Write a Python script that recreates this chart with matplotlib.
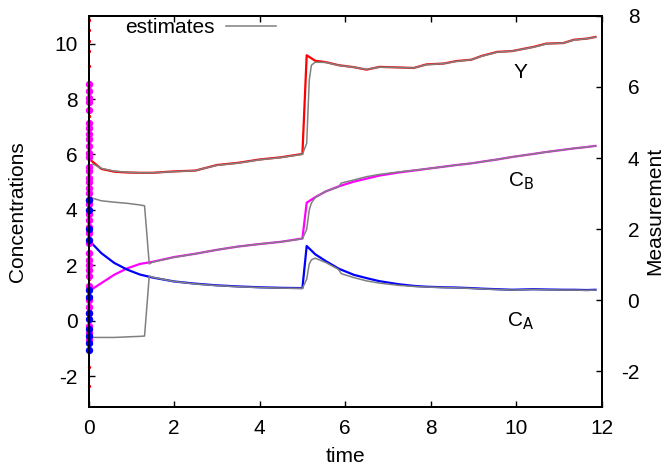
import matplotlib
matplotlib.use("Agg")
import matplotlib.pyplot as plt
from matplotlib.lines import Line2D

plt.rcParams['font.family'] = ['Liberation Sans', 'DejaVu Sans']
plt.rcParams['font.size'] = 15
plt.rcParams['axes.unicode_minus'] = False

# ---- data ----
t_true = [0.0, 0.3, 0.6, 0.9, 1.2, 1.5, 2.0, 2.5, 3.0, 3.5, 4.0, 4.5, 5.0,
          5.1, 5.3, 5.55, 5.85, 6.2, 6.5, 6.8, 7.25, 7.6, 7.9, 8.3, 8.6,
          8.95, 9.2, 9.55, 9.9, 10.4, 10.7, 11.1, 11.35, 11.65, 11.85]
y_true = [5.86, 5.48, 5.38, 5.35, 5.34, 5.34, 5.39, 5.42, 5.62, 5.70, 5.82, 5.90, 6.02,
          9.58, 9.38, 9.33, 9.22, 9.15, 9.06, 9.16, 9.14, 9.12, 9.25, 9.28, 9.37,
          9.42, 9.56, 9.70, 9.73, 9.88, 10.00, 10.02, 10.14, 10.18, 10.24]
cb_true = [1.06, 1.36, 1.66, 1.89, 2.05, 2.13, 2.30, 2.42, 2.56, 2.68, 2.77, 2.85, 2.97,
           4.26, 4.46, 4.67, 4.85, 5.02, 5.13, 5.24, 5.35, 5.42, 5.48, 5.56, 5.62,
           5.68, 5.74, 5.82, 5.91, 6.02, 6.09, 6.17, 6.22, 6.27, 6.31]
ca_true = [2.92, 2.44, 2.09, 1.85, 1.67, 1.56, 1.42, 1.34, 1.28, 1.24, 1.21, 1.19, 1.18,
           2.70, 2.40, 2.15, 1.88, 1.66, 1.54, 1.43, 1.32, 1.26, 1.23, 1.21, 1.20,
           1.18, 1.16, 1.14, 1.12, 1.14, 1.13, 1.12, 1.12, 1.11, 1.12]

t_est = [0.05, 0.1, 0.3, 0.6, 0.9, 1.2, 1.31, 1.42, 1.5, 2.0, 2.5, 3.0, 3.5, 4.0, 4.5, 5.0,
         5.1, 5.16, 5.21, 5.3, 5.55, 5.84, 5.91, 6.2, 6.5, 6.8, 7.25, 7.6, 7.9, 8.3, 8.6,
         8.95, 9.2, 9.55, 9.9, 10.4, 10.7, 11.1, 11.35, 11.65, 11.85]
y_est = [5.60, 5.66, 5.50, 5.40, 5.36, 5.34, 5.34, 5.34, 5.34, 5.38, 5.42, 5.61, 5.69, 5.81, 5.89, 6.01,
         6.40, 8.68, 9.22, 9.33, 9.32, 9.22, 9.20, 9.15, 9.07, 9.15, 9.14, 9.12, 9.24, 9.28, 9.36,
         9.42, 9.55, 9.69, 9.73, 9.87, 9.99, 10.02, 10.13, 10.18, 10.23]
cb_est = [4.50, 4.42, 4.33, 4.28, 4.24, 4.18, 4.15, 2.05, 2.12, 2.29, 2.42, 2.56, 2.68, 2.77, 2.85, 2.96,
          3.30, 4.00, 4.25, 4.45, 4.68, 4.82, 4.97, 5.08, 5.20, 5.28, 5.37, 5.43, 5.48, 5.56, 5.62,
          5.68, 5.74, 5.82, 5.91, 6.02, 6.09, 6.17, 6.22, 6.27, 6.31]
ca_est = [-0.45, -0.60, -0.60, -0.60, -0.58, -0.56, -0.55, 1.62, 1.57, 1.42, 1.33, 1.27, 1.23, 1.20, 1.18, 1.17,
          1.50, 2.05, 2.20, 2.26, 2.10, 1.86, 1.70, 1.56, 1.44, 1.36, 1.28, 1.24, 1.22, 1.20, 1.19,
          1.17, 1.15, 1.13, 1.11, 1.13, 1.12, 1.11, 1.11, 1.10, 1.11]

# initial ensemble samples at t = 0
y0_samples = [10.85, 10.5, 10.1, 9.75, 9.2, 8.35, 7.9, 7.4, 6.6, 6.1, 5.2, 4.6, 3.9,
              3.2, 2.5, 1.5, 0.2, -1.65, -2.35]
cb0_samples = [8.55, 8.3, 8.05, 7.9, 7.6, 7.15, 6.95, 6.75, 6.55, 6.3, 6.05, 5.9, 5.55,
               5.4, 5.15, 5.0, 4.8, 4.6, 4.35, 4.2, 3.85, 3.65, 3.4, 3.15, 2.8, 2.45,
               2.2, 2.0, 1.85, 1.6, 1.25, 0.75, 0.5, 0.3, -0.2, -0.45, -0.7]
ca0_samples = [4.35, 4.0, 3.3, 2.9, 1.1, 0.85, 0.3, 0.05, -0.3, -0.55, -0.8, -1.05]

labels = ['Y', 'C$_{\\mathrm{B}}$', 'C$_{\\mathrm{A}}$']
label_pos_t = [10.1, 10.1, 10.1]
label_pos_v = [8.95, 5.05, 0.0]

# ---- figure ----
fig = plt.figure(figsize=(6.68, 4.67), dpi=100)
ax = fig.add_axes([0.1325, 0.129, 0.7685, 0.837])

gray = '#808080'
ax.plot(t_true, y_true, color='#ff0000', lw=1.6, zorder=3)
ax.plot(t_true, cb_true, color='#ff00ff', lw=1.6, zorder=3)
ax.plot(t_true, ca_true, color='#0000ff', lw=1.6, zorder=3)
ax.plot(t_est, y_est, color=gray, lw=1.1, zorder=4)
ax.plot(t_est, cb_est, color=gray, lw=1.1, zorder=4)
ax.plot(t_est, ca_est, color=gray, lw=1.1, zorder=4)

ax.plot([0.0] * len(y0_samples), y0_samples, 'o', color='#ff0000', ms=1.4,
        clip_on=False, zorder=5)
ax.plot([0.0] * len(cb0_samples), cb0_samples, 'o', color='#ff00ff', ms=4.3,
        clip_on=False, zorder=6)
ax.plot([0.0] * len(ca0_samples), ca0_samples, 'o', color='#0000ff', ms=4.3,
        clip_on=False, zorder=7)

for lab, tx, vy in zip(labels, label_pos_t, label_pos_v):
    ax.text(tx, vy, lab, ha='center', va='center', fontsize=15)

ax.set_xlim(0, 12)
ax.set_ylim(-3.1, 11)
ax.set_xticks([0, 2, 4, 6, 8, 10, 12])
ax.set_yticks([-2, 0, 2, 4, 6, 8, 10])
ax.set_xlabel('time')
ax.set_ylabel('Concentrations')
ax.xaxis.set_label_coords(0.5, -0.128)
ax.xaxis.label.set_va('center')
ax.yaxis.set_label_coords(-0.139, 0.5)
ax.yaxis.label.set_va('center')
ax.tick_params(axis='both', direction='in', length=4, width=1, top=True, right=False)
ax.tick_params(axis='x', pad=9)
ax.tick_params(axis='y', pad=8)
for s in ax.spines.values():
    s.set_linewidth(1.4)

ax2 = ax.twinx()
ax2.set_ylim(-3, 8)
ax2.set_yticks([-2, 0, 2, 4, 6, 8])
ax2.tick_params(axis='y', direction='in', length=4, width=1, pad=27)
for lbl in ax2.get_yticklabels():
    lbl.set_ha('right')
ax2.set_ylabel('Measurement')
ax2.yaxis.set_label_coords(1.103, 0.5)
ax2.yaxis.label.set_va('center')
for s in ax2.spines.values():
    s.set_linewidth(1.4)

handle = Line2D([], [], color=gray, lw=1.1)
ax.legend([handle], ['estimates'], loc='upper left', bbox_to_anchor=(0.068, 1.0),
          frameon=False, markerfirst=False, handlelength=2.4, handletextpad=0.55,
          borderpad=0.1, borderaxespad=0)

fig.savefig('out.png', dpi=100)
